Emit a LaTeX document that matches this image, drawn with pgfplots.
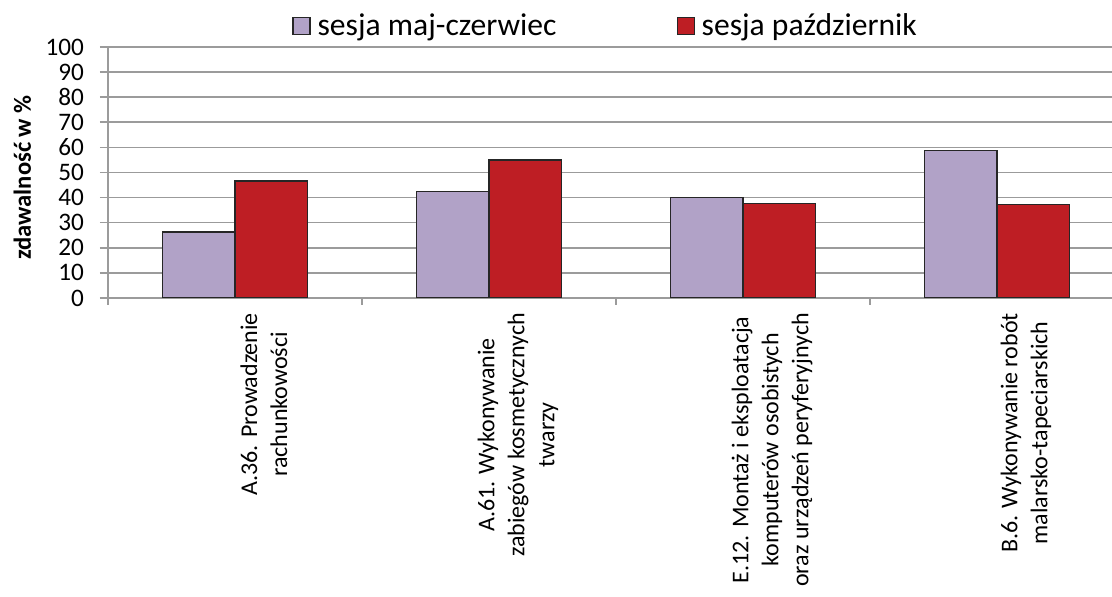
\documentclass[border=0pt]{standalone}
\usepackage{fontspec}
\setmainfont{Carlito}
\usepackage{pgfplots}
\pgfplotsset{compat=1.18}
\definecolor{lav}{RGB}{177,162,199}
\definecolor{dred}{RGB}{190,30,36}
\definecolor{grid}{RGB}{155,155,155}
\begin{document}
\begin{tikzpicture}
\useasboundingbox (0,0) rectangle (556pt,298.5pt);
\clip (0,0) rectangle (556pt,298.5pt);
\begin{axis}[
  at={(54pt,149.5pt)}, anchor=south west,
  width=502pt, height=125.5pt, scale only axis,
  xmin=-0.5, xmax=3.453, ymin=0, ymax=100,
  axis x line*=bottom, axis y line*=left,
  axis line style={-, draw=grid, line width=0.8pt},
  ymajorgrids, grid style={draw=grid, line width=0.8pt},
  ytick={0,10,...,100},
  tick align=outside, tick pos=left,
  major tick length=4pt, minor tick length=3.5pt,
  tick style={draw=grid, line width=0.8pt},
  major x tick style={draw=none},
  xtick={0,1,2,3},
  minor xtick={-0.5,0.5,1.5,2.5,3.5},
  xticklabels={{A.36. Prowadzenie\\rachunkowości},{A.61. Wykonywanie\\zabiegów kosmetycznych\\twarzy},{E.12. Montaż i eksploatacja\\komputerów osobistych\\oraz urządzeń peryferyjnych},{B.6. Wykonywanie robót\\malarsko-tapeciarskich}},
  xticklabel style={rotate=90, anchor=east, align=center, font=\fontsize{12}{15}\selectfont, yshift=-14.5pt},
  yticklabel style={font=\fontsize{12.6}{14}\selectfont, xshift=-4.5pt},
  /pgf/number format/assume math mode=true,
  ylabel={zdawalność w \%},
  ylabel style={at={(axis description cs:-0.0852,0.48)}, anchor=center, font=\bfseries\fontsize{12.3}{14}\selectfont},
  legend columns=2,
  legend style={at={(rel axis cs:0.1833,1.084)}, anchor=west, draw=none, fill=none, inner xsep=0pt,
    font=\fontsize{15.8}{17}\selectfont,
    /tikz/every even column/.append style={column sep=58pt},
    /tikz/every odd column/.append style={column sep=1.5pt}},
  legend image code/.code={\draw[#1, line width=0.6pt] (0pt,-4.25pt) rectangle (8.5pt,4.25pt);},
  bar width=0.2855,
]
\addplot[ybar, bar shift=-0.14275, fill=lav, draw=black!85, line width=0.6pt] coordinates {(0,26.3) (1,42.3) (2,39.9) (3,58.9)};
\addplot[ybar, bar shift=0.14275, fill=dred, draw=black!85, line width=0.6pt] coordinates {(0,46.6) (1,55.0) (2,37.7) (3,37.3)};
\legend{sesja maj-czerwiec, sesja październik}
\end{axis}
\end{tikzpicture}
\end{document}
